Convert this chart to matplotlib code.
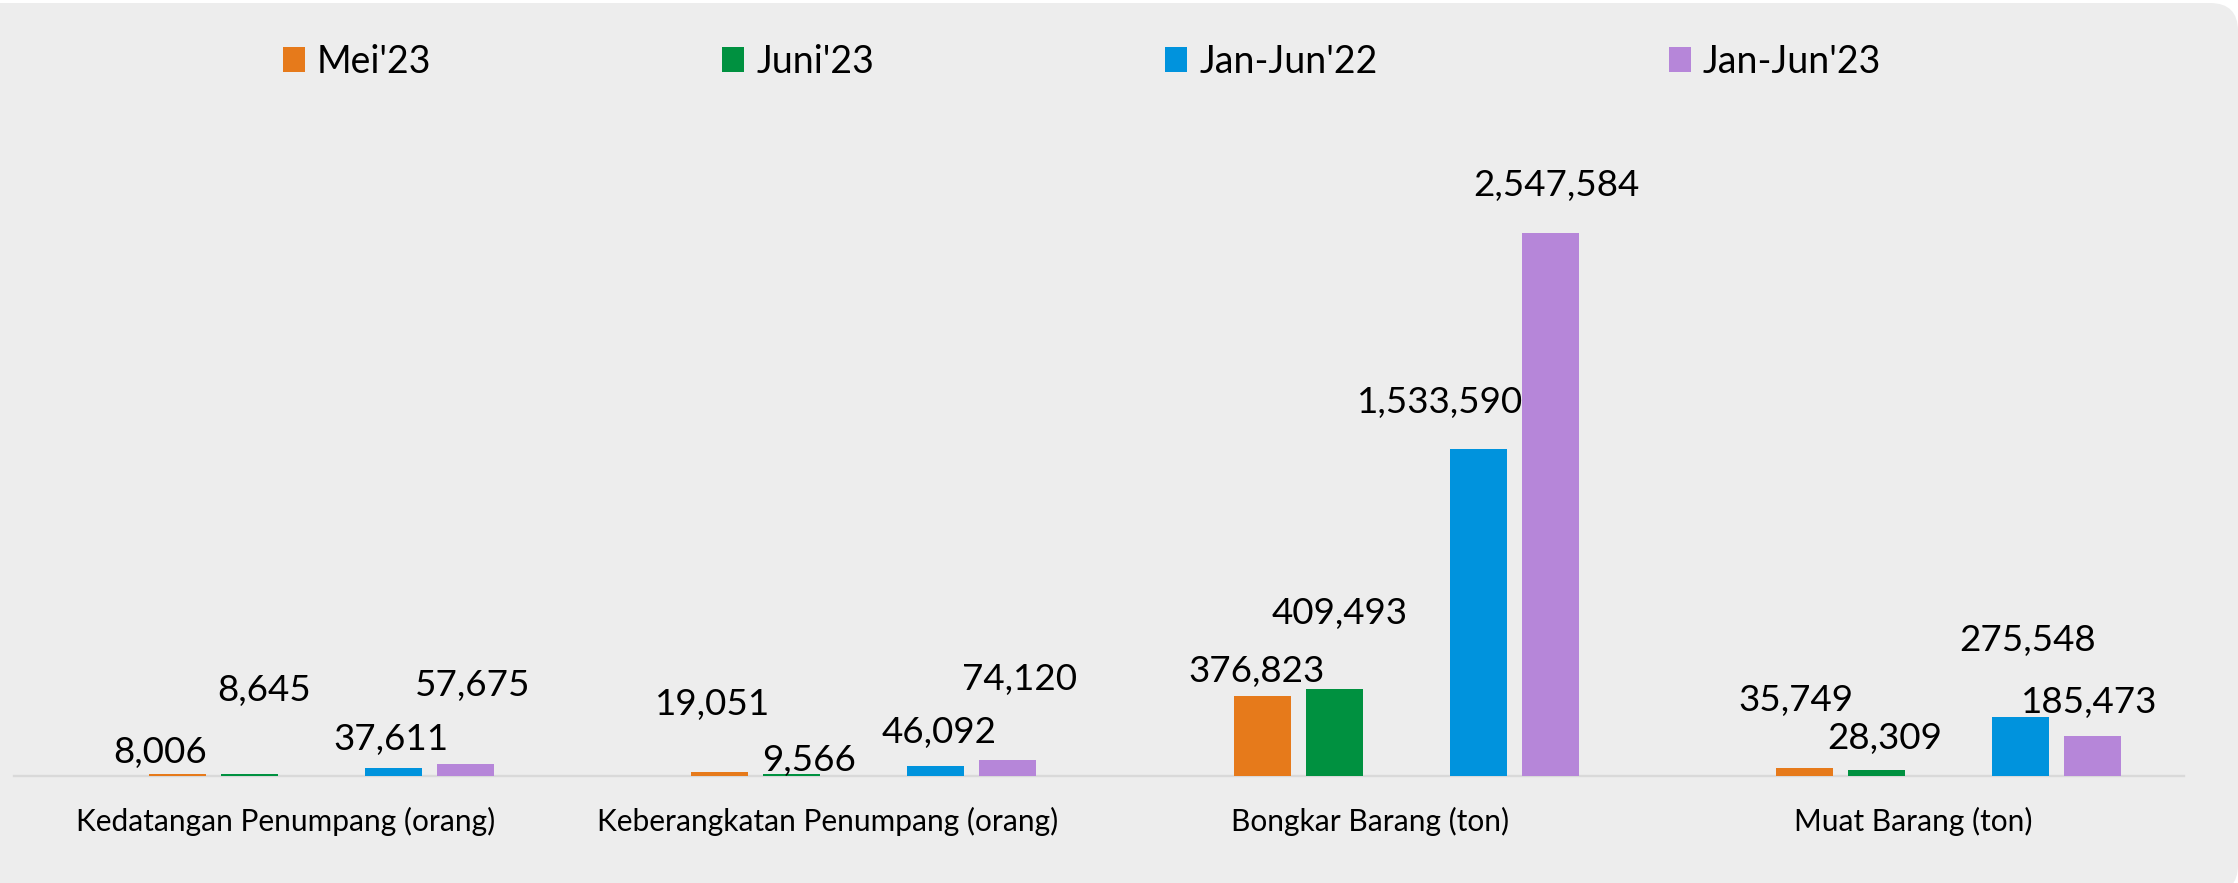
import matplotlib
matplotlib.use('Agg')
import matplotlib.pyplot as plt
import numpy as np
from matplotlib.patches import FancyBboxPatch, Patch
from matplotlib.transforms import IdentityTransform

# ---------------- data ----------------
categories = ["Kedatangan Penumpang (orang)", "Keberangkatan Penumpang (orang)",
              "Bongkar Barang (ton)", "Muat Barang (ton)"]
series_names = ["Mei'23", "Juni'23", "Jan-Jun'22", "Jan-Jun'23"]
mei23 = [8006, 19051, 376823, 35749]
juni23 = [8645, 9566, 409493, 28309]
jan_jun22 = [37611, 46092, 1533590, 275548]
jan_jun23 = [57675, 74120, 2547584, 185473]

# ---------------- style / layout ----------------
colors = ['#E67A1B', '#009140', '#0093DD', '#B686D9']
slot_offsets = [-1.5, -0.5, 1.5, 2.5]      # in slot units from category centre
slot = 72 / 542.5
bar_w = 57 / 542.5
# label offsets (pixels) : (dx, height of digit centre above bar top)
label_offsets = [
    [(-17, 24), (-7, 70), (-6, 27), (-9, 70)],
    [(14.5, 86), (17, 16), (5, 78), (7.5, 34)],
    [(-2.5, 31), (3, 36), (-38, 49), (7, 79)],
    [(7.5, 81), (12, 83), (6, 50), (-4, 36)],
]

W, H, DPI = 2238, 883, 100
plt.rcParams['font.family'] = ['Lato', 'DejaVu Sans']

fig = plt.figure(figsize=(W / DPI, H / DPI), dpi=DPI)
fig.patch.set_facecolor('white')

bg = FancyBboxPatch((-50, -10), W + 50, 880 + 10,
                    boxstyle="round,pad=0,rounding_size=28",
                    transform=IdentityTransform(), facecolor='#EDEDED',
                    edgecolor='none', zorder=-10)
fig.patches.append(bg)

ax = fig.add_axes([14 / W, 107 / H, 2170 / W, (776 - 100) / H])
ax.set_facecolor('none')

series = [mei23, juni23, jan_jun22, jan_jun23]
x = np.arange(len(categories))
ymax = max(jan_jun23) * 676 / 542.7

for si, (vals, col) in enumerate(zip(series, colors)):
    xpos = x + slot_offsets[si] * slot
    ax.bar(xpos, vals, width=bar_w, color=col, edgecolor='none', zorder=3,
           label=series_names[si])
    for xi, v in zip(range(len(categories)), vals):
        dx, dy = label_offsets[si][xi]
        ax.annotate(f"{v:,}", xy=(xpos[xi], v), xytext=(dx, dy - 13),
                    textcoords='offset pixels', ha='center', va='baseline',
                    fontsize=26.5, color='black', zorder=5)

ax.set_xlim(-0.5, len(categories) - 0.5)
ax.set_ylim(0, ymax)
ax.set_xticks(x, categories, fontsize=21.5)
ax.tick_params(axis='x', length=0, pad=22)
ax.set_yticks([])
for s in ['left', 'right', 'top']:
    ax.spines[s].set_visible(False)
ax.spines['bottom'].set_color('#D9D9D9')
ax.spines['bottom'].set_linewidth(1.7)
ax.spines['bottom'].set_zorder(2)

handles = [Patch(facecolor=c, edgecolor='none') for c in colors]
fs_leg = 27
fig.legend(handles, series_names, loc='center left',
           bbox_to_anchor=(283 / W, 1 - 62 / H), ncol=4, frameon=False,
           fontsize=fs_leg, handlelength=22 / (fs_leg * 1.389),
           handleheight=24 / (fs_leg * 1.389),
           handletextpad=12 / (fs_leg * 1.389),
           columnspacing=291 / (fs_leg * 1.389), borderpad=0,
           borderaxespad=0)

fig.savefig('out.png', dpi=DPI, facecolor=fig.get_facecolor())
